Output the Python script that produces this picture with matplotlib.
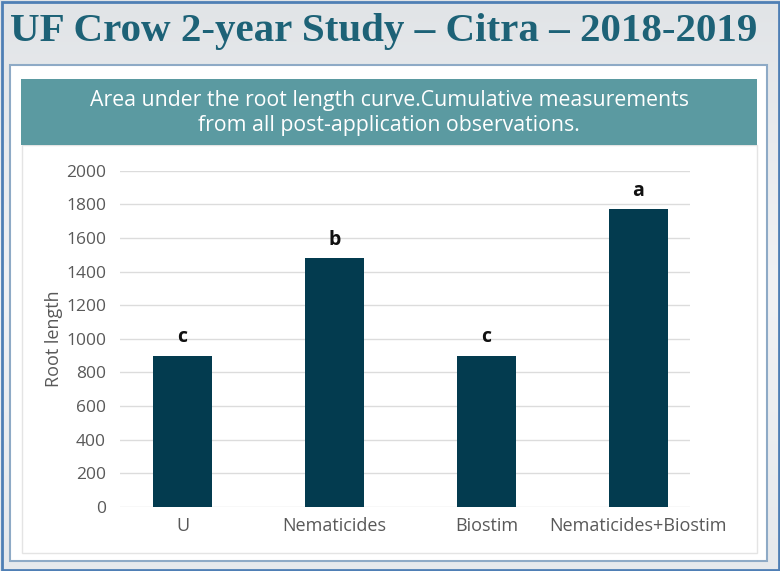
import numpy as np
import matplotlib
matplotlib.use("Agg")
import matplotlib.pyplot as plt
from matplotlib.patches import Rectangle

categories = ["U", "Nematicides", "Biostim", "Nematicides+Biostim"]
root_length = [900, 1480, 900, 1770]
letters = ["c", "b", "c", "a"]
y_ticks = [0, 200, 400, 600, 800, 1000, 1200, 1400, 1600, 1800, 2000]

TITLE = "UF Crow 2-year Study \u2013 Citra \u2013 2018-2019"
BANNER = ("Area under the root length curve.Cumulative measurements\n"
          "from all post-application observations.")

C_BAR = "#033B4F"
C_TITLE = "#1D6277"
C_BANNER = "#5B9AA1"
C_TICK = "#595959"
C_GRID = "#DCDCDC"

W, H = 780, 571
fig = plt.figure(figsize=(W / 100, H / 100), dpi=100)


def px_rect(x0, y0, x1, y1, **kw):
    # rectangle in pixel coords (origin top-left)
    r = Rectangle((x0 / W, 1 - y1 / H), (x1 - x0) / W, (y1 - y0) / H,
                  transform=fig.transFigure, **kw)
    fig.add_artist(r)
    return r


# background gradient
bg = fig.add_axes([0, 0, 1, 1], zorder=-10)
grad = np.linspace(0, 1, 256).reshape(-1, 1)
bg.imshow(grad, aspect="auto", cmap=matplotlib.colors.LinearSegmentedColormap.from_list(
    "bg", ["#E1E4E7", "#F1F2F4", "#E6E9EC"]), extent=[0, 1, 0, 1])
bg.set_axis_off()

px_rect(1.5, 1.5, W - 1.5, H - 1.5, facecolor="none", edgecolor="#4F7FB5", lw=2, zorder=1)
px_rect(10, 65, 767, 561, facecolor="white", edgecolor="#8EAAC6", lw=1.5, zorder=1)
px_rect(22, 145, 757, 553, facecolor="white", edgecolor="#E4E4E4", lw=1, zorder=2)
px_rect(21, 79, 757, 145, facecolor=C_BANNER, edgecolor="none", zorder=2)

fig.text(384 / W, 1 - 31 / H, TITLE, ha="center", va="center", color=C_TITLE,
         fontsize=29.5, fontweight="bold", family="Liberation Serif")
fig.text(389 / W, 1 - 113 / H, BANNER, ha="center", va="center", color="white",
         fontsize=15.3, family="Open Sans", linespacing=1.3, zorder=3)

# chart axes
ax = fig.add_axes([120 / W, 1 - 507 / H, 570 / W, (507 - 170.7) / H], zorder=5)
ax.set_facecolor("none")
x = np.arange(len(categories))
bars = ax.bar(x, root_length, width=0.39, color=C_BAR, zorder=3)
for xi, v, lt in zip(x, root_length, letters):
    ax.annotate(lt, (xi, v), xytext=(0, 6), textcoords="offset points",
                ha="center", va="bottom", fontsize=14, fontweight="bold",
                color="#111111", family="Open Sans")

ax.set_xlim(-0.411, 3.339)
ax.set_ylim(0, 2000)
ax.set_yticks(y_ticks)
ax.set_xticks(x)
ax.set_xticklabels(categories)
ax.yaxis.grid(True, color=C_GRID, lw=1, zorder=0)
ax.set_axisbelow(True)
for s in ax.spines.values():
    s.set_visible(False)
ax.tick_params(axis="y", length=0, colors=C_TICK, labelsize=12.5, pad=10)
ax.tick_params(axis="x", length=0, colors=C_TICK, labelsize=13, pad=7)
for lbl in ax.get_xticklabels() + ax.get_yticklabels():
    lbl.set_family("Open Sans")
ax.set_ylabel("Root length", color=C_TICK, fontsize=13, family="Open Sans", labelpad=2)

fig.savefig("out.png", dpi=100)
